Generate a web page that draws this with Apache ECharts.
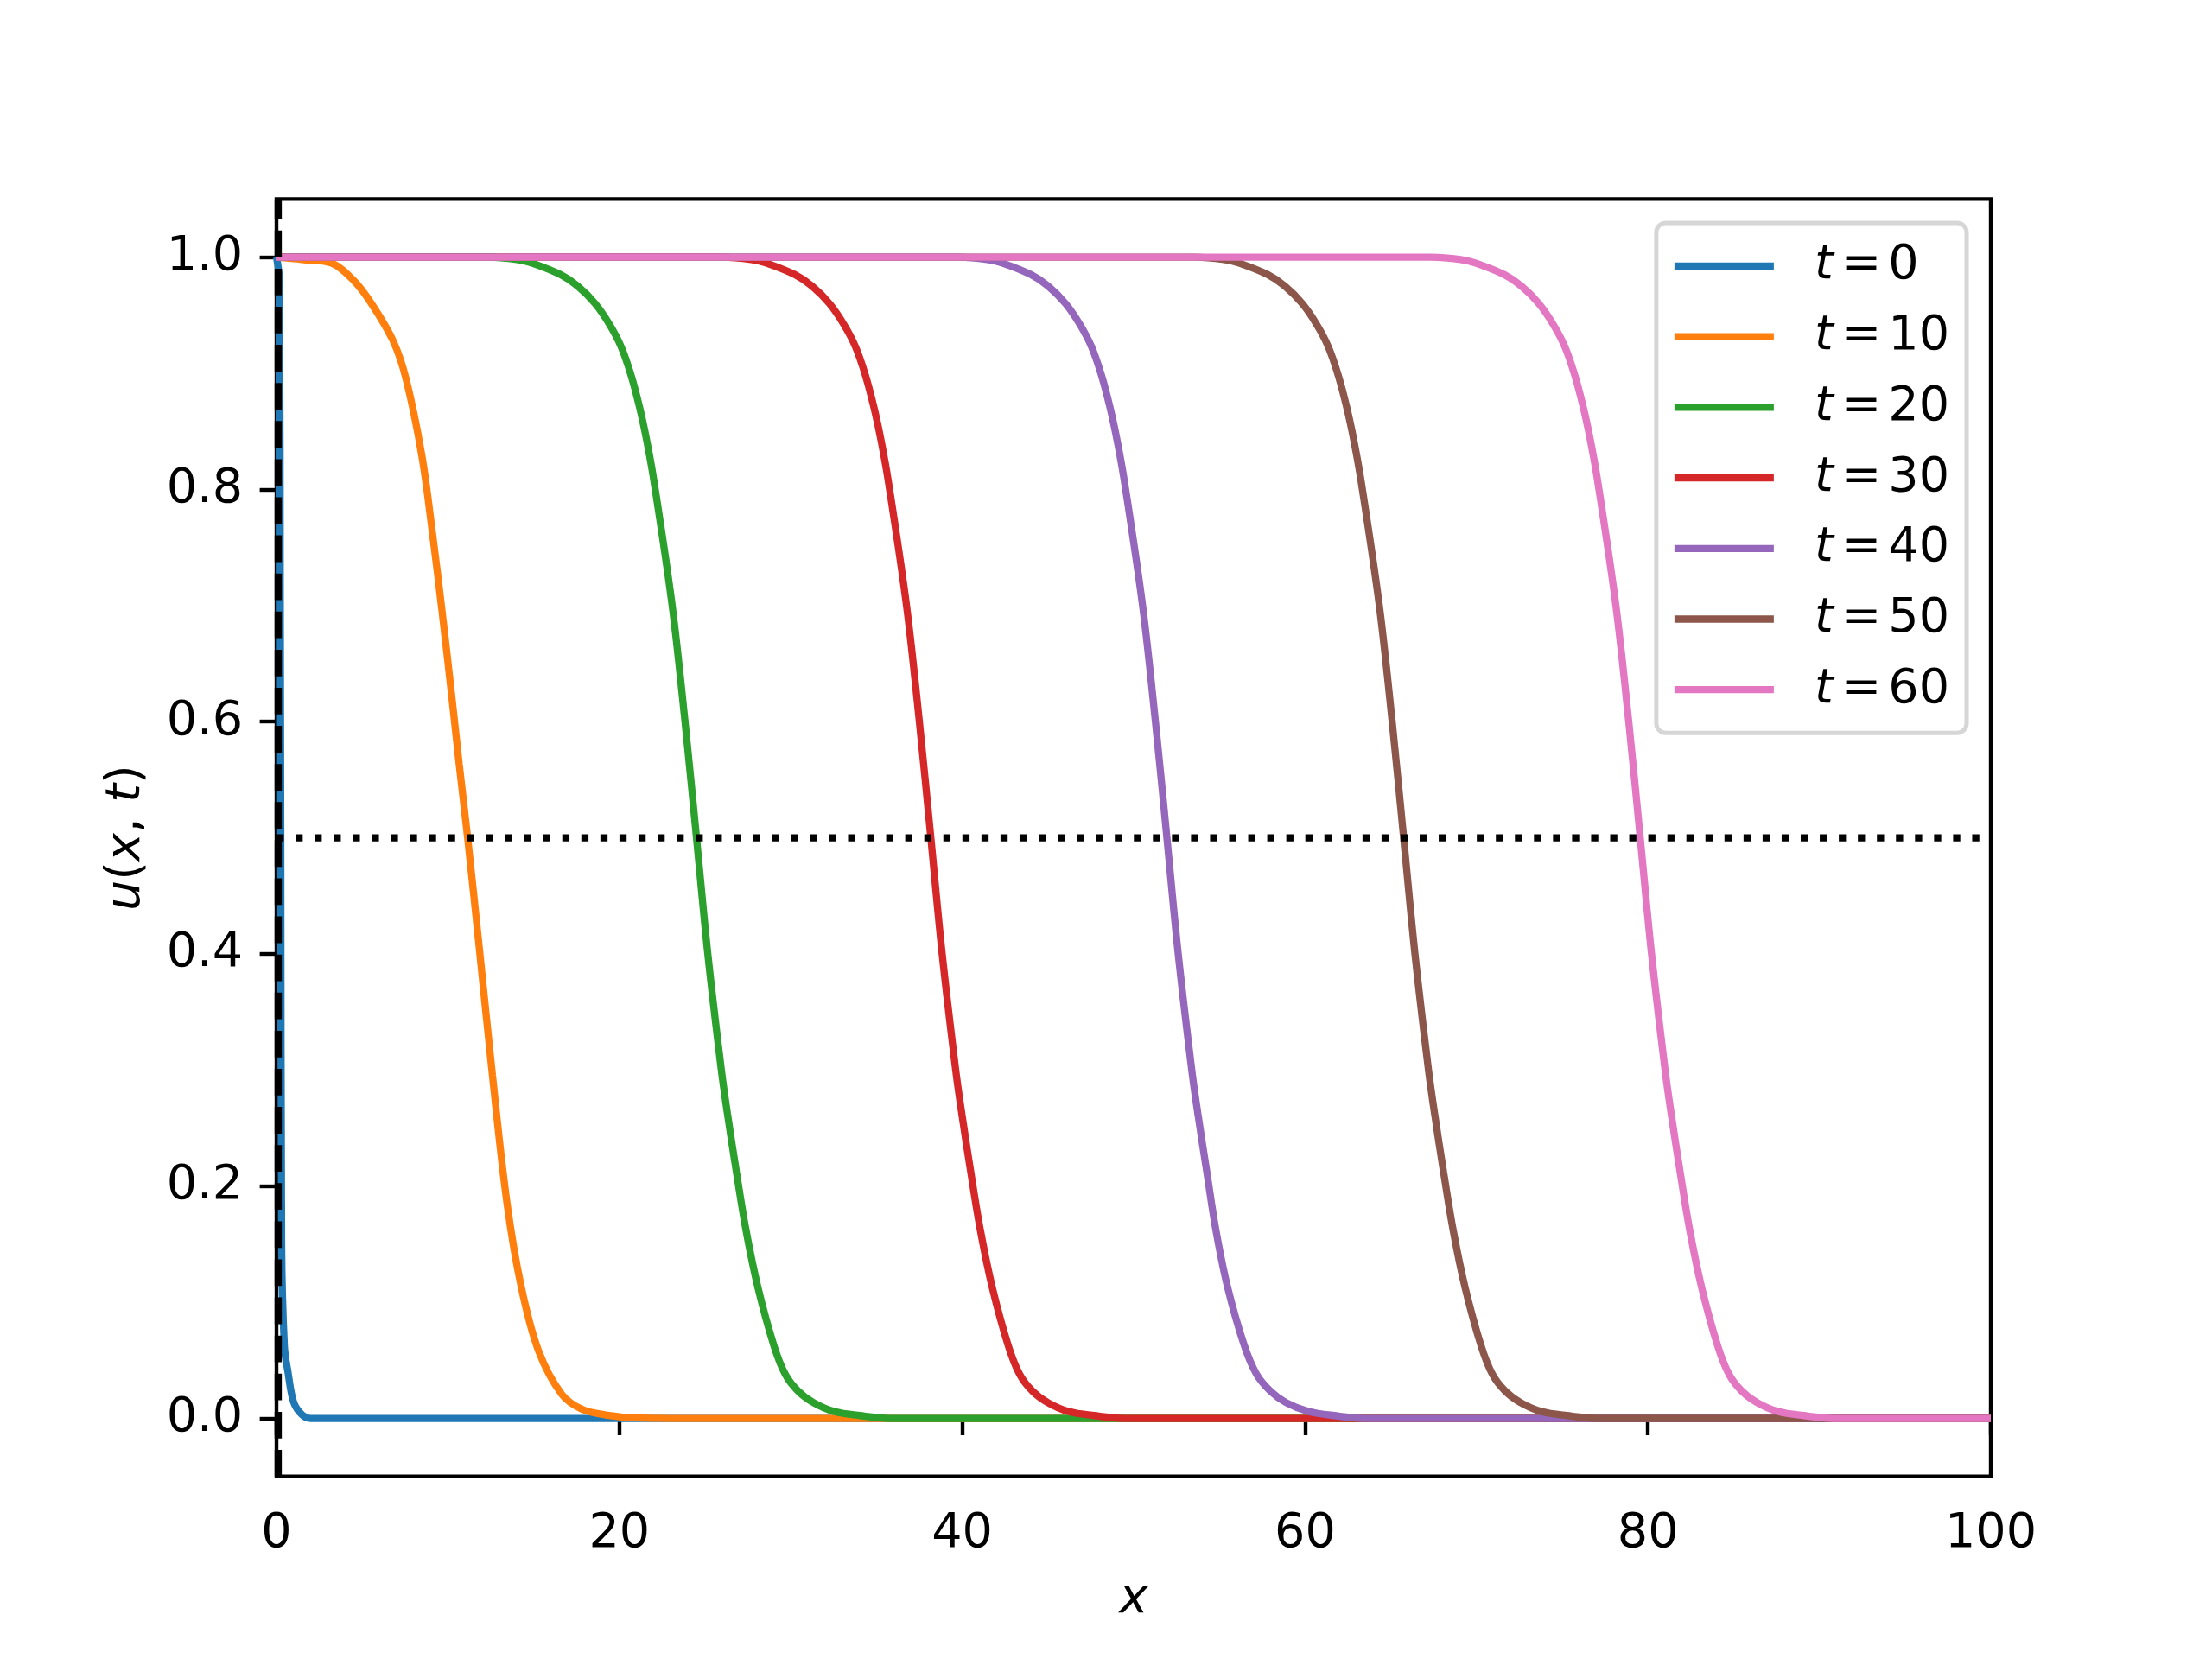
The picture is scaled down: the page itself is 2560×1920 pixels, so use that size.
<!DOCTYPE html>
<html>
<head>
<meta charset="utf-8">
<title>u(x, t)</title>
<script src="https://cdn.jsdelivr.net/npm/echarts@6/dist/echarts.min.js"></script>
<style>
    html, body { margin: 0; padding: 0; background: #fff; }
    #chart { width: 2560px; height: 1920px; }
</style>
</head>
<body>
<div id="chart"></div>
<script>
// times shown in the legend
const times = [0, 10, 20, 30, 40, 50, 60];

// profiles, [x, u]
const curveT0 = [[0, 1], [0.17, 0.98], [0.22, 0.7], [0.25, 0.5], [0.3, 0.15], [0.46, 0.062], [0.67, 0.04],
    [1.0, 0.014], [1.5, 0.003], [2.0, 0], [100, 0]];
const curveT10 = [[0, 1], [1.5, 0.998], [3.2, 0.995], [4.5, 0.98], [5.54, 0.96], [6.8, 0.928], [7.56, 0.895],
    [8.48, 0.829], [9.1, 0.762], [9.65, 0.696], [10.17, 0.629], [10.66, 0.563], [11.15, 0.5], [11.83, 0.405],
    [12.6, 0.295], [13.44, 0.186], [14.28, 0.113], [15.29, 0.058], [16.63, 0.021], [17.8, 0.008],
    [19.2, 0.003], [21, 0.0005], [24, 0], [100, 0]];
const curveT20 = [[0, 1], [12.33, 1], [14.03, 0.998], [14.89, 0.995], [16.57, 0.985], [17.58, 0.975],
    [18.59, 0.96], [19.43, 0.942], [20.1, 0.923], [20.69, 0.898], [21.19, 0.87], [21.61, 0.841],
    [22.03, 0.806], [23.08, 0.7], [23.83, 0.6], [24.5, 0.5], [25.16, 0.4], [25.95, 0.3], [26.31, 0.262],
    [26.83, 0.212], [27.39, 0.162], [28.08, 0.113], [29.01, 0.063], [29.68, 0.038], [30.43, 0.0235],
    [31.33, 0.0136], [32.53, 0.006], [34.03, 0.0025], [36.03, 0], [100, 0]];
const curveT30 = [[0, 1], [26, 1], [27.7, 0.998], [28.56, 0.995], [30.24, 0.985], [31.25, 0.975],
    [32.26, 0.96], [33.1, 0.942], [33.77, 0.923], [34.36, 0.898], [34.86, 0.87], [35.28, 0.841],
    [35.7, 0.806], [36.75, 0.7], [37.5, 0.6], [38.17, 0.5], [38.83, 0.4], [39.62, 0.3], [39.98, 0.262],
    [40.5, 0.212], [41.06, 0.162], [41.75, 0.113], [42.68, 0.063], [43.35, 0.038], [44.1, 0.0235],
    [45.0, 0.0136], [46.2, 0.006], [47.7, 0.0025], [49.7, 0], [100, 0]];
const curveT40 = [[0, 1], [39.77, 1], [41.47, 0.998], [42.33, 0.995], [44.01, 0.985], [45.02, 0.975],
    [46.03, 0.96], [46.87, 0.942], [47.54, 0.923], [48.13, 0.898], [48.63, 0.87], [49.05, 0.841],
    [49.47, 0.806], [50.52, 0.7], [51.27, 0.6], [51.94, 0.5], [52.6, 0.4], [53.39, 0.3], [53.75, 0.262],
    [54.27, 0.212], [54.8, 0.162], [55.48, 0.113], [56.45, 0.063], [57.17, 0.038], [57.98, 0.0235],
    [58.9, 0.0136], [60.2, 0.006], [61.7, 0.0025], [63.7, 0], [100, 0]];
const curveT50 = [[0, 1], [53.58, 1], [55.28, 0.998], [56.14, 0.995], [57.82, 0.985], [58.83, 0.975],
    [59.84, 0.96], [60.68, 0.942], [61.35, 0.923], [61.94, 0.898], [62.44, 0.87], [62.86, 0.841],
    [63.28, 0.806], [64.33, 0.7], [65.08, 0.6], [65.75, 0.5], [66.41, 0.4], [67.2, 0.3], [67.56, 0.262],
    [68.08, 0.212], [68.64, 0.162], [69.33, 0.113], [70.26, 0.063], [70.93, 0.038], [71.68, 0.0235],
    [72.58, 0.0136], [73.78, 0.006], [75.28, 0.0025], [77.28, 0], [100, 0]];
const curveT60 = [[0, 1], [67.38, 1], [69.08, 0.998], [69.94, 0.995], [71.62, 0.985], [72.63, 0.975],
    [73.64, 0.96], [74.48, 0.942], [75.15, 0.923], [75.74, 0.898], [76.24, 0.87], [76.66, 0.841],
    [77.08, 0.806], [78.13, 0.7], [78.88, 0.6], [79.55, 0.5], [80.21, 0.4], [81.0, 0.3], [81.36, 0.262],
    [81.88, 0.212], [82.44, 0.162], [83.13, 0.113], [84.06, 0.063], [84.73, 0.038], [85.48, 0.0235],
    [86.38, 0.0136], [87.58, 0.006], [89.08, 0.0025], [91.08, 0], [100, 0]];

// reference lines
const vlineX = [0.1, 0.1];
const vlineU = [-0.05, 1.05];
const hlineX = [0, 100];
const hlineU = [0.5, 0.5];

// tick labels
const xTicks = [0, 20, 40, 60, 80, 100];
const yTicks = [0, 0.2, 0.4, 0.6, 0.8, 1.0];

const curves = [curveT0, curveT10, curveT20, curveT30, curveT40, curveT50, curveT60];
const colors = ['#1f77b4', '#ff7f0e', '#2ca02c', '#d62728', '#9467bd', '#8c564b', '#e377c2'];
const names = times.map(t => 't = ' + t);

const FONT = 'DejaVu Sans';
const FS = 55.6;   // 10pt at 400 dpi
const LW = 8.33;   // 1.5pt

let chart = echarts.init(document.getElementById('chart'));

let series = curves.map((c, i) => ({
    name: names[i],
    type: 'line',
    data: c,
    symbol: 'none',
    smooth: 0.35,
    silent: true,
    lineStyle: { color: colors[i], width: LW },
    itemStyle: { color: colors[i] }
}));

// black dashed vertical line at the left boundary
series.push({
    name: 'boundary',
    type: 'line',
    data: vlineX.map((x, i) => [x, vlineU[i]]),
    symbol: 'none',
    silent: true,
    lineStyle: { color: '#000', width: LW, type: [30.8, 13.3], cap: 'butt' }
});

// dotted u = 0.5
series.push({
    name: 'half',
    type: 'line',
    data: hlineX.map((x, i) => [x, hlineU[i]]),
    symbol: 'none',
    silent: true,
    lineStyle: { color: '#000', width: LW, type: [8.3, 13.75], cap: 'butt' }
});

const tickStyle = { length: 19.4, lineStyle: { color: '#000', width: 4.4 } };

chart.setOption({
    animation: false,
    backgroundColor: '#fff',
    textStyle: { fontFamily: FONT },

    grid: {
        left: 320,
        right: 256,
        top: 230.4,
        bottom: 211.2,
        show: true,
        backgroundColor: '#fff',
        borderColor: '#000',
        borderWidth: 4.4
    },

    xAxis: {
        type: 'value',
        min: 0,
        max: 100,
        name: 'x',
        nameLocation: 'middle',
        nameGap: 115,
        nameTextStyle: { fontFamily: FONT, fontSize: FS, fontStyle: 'italic', color: '#000' },
        axisLine: { show: false },
        axisTick: Object.assign({ customValues: xTicks }, tickStyle),
        axisLabel: {
            customValues: xTicks,
            margin: 38.9,
            fontFamily: FONT,
            fontSize: FS,
            color: '#000'
        },
        splitLine: { show: false }
    },

    yAxis: {
        type: 'value',
        min: -0.05,
        max: 1.05,
        name: '{i|u}{r|(}{i|x}{r|, }{i|t}{r|)}',
        nameLocation: 'middle',
        nameGap: 145,
        nameTextStyle: {
            fontFamily: FONT,
            fontSize: FS,
            color: '#000',
            rich: {
                i: { fontFamily: FONT, fontSize: FS, fontStyle: 'italic', color: '#000' },
                r: { fontFamily: FONT, fontSize: FS, color: '#000' }
            }
        },
        axisLine: { show: false },
        axisTick: Object.assign({ customValues: yTicks }, tickStyle),
        axisLabel: {
            customValues: yTicks,
            margin: 38.9,
            fontFamily: FONT,
            fontSize: FS,
            color: '#000',
            formatter: v => v.toFixed(1)
        },
        splitLine: { show: false }
    },

    legend: {
        data: names,
        orient: 'vertical',
        right: 284,
        top: 258,
        padding: [20, 20, 20, 21],
        itemGap: 21.7,
        icon: 'rect',
        itemWidth: 115,
        itemHeight: LW,
        selectedMode: false,
        backgroundColor: 'rgba(255,255,255,0.8)',
        borderColor: '#d6d6d6',
        borderWidth: 5,
        borderRadius: 11,
        formatter: function (name) {
            return '{i|t}{e|=}{n|' + name.split('= ')[1] + '}';
        },
        textStyle: {
            fontFamily: FONT,
            fontSize: FS,
            color: '#000',
            lineHeight: 60,
            padding: [0, 0, 0, 42],
            rich: {
                i: { fontFamily: FONT, fontSize: FS, fontStyle: 'italic', color: '#000', lineHeight: 60 },
                e: { fontFamily: FONT, fontSize: FS, color: '#000', lineHeight: 60, padding: [0, 8, 0, 9] },
                n: { fontFamily: FONT, fontSize: FS, color: '#000', lineHeight: 60 }
            }
        }
    },

    series: series
});
</script>
</body>
</html>
